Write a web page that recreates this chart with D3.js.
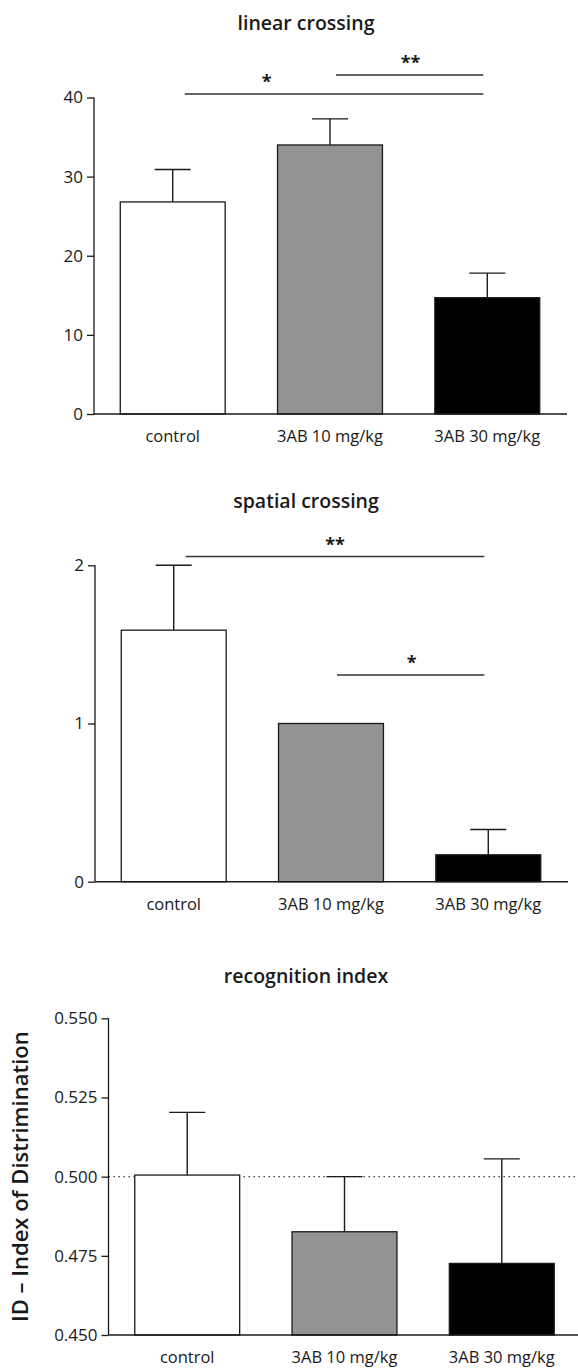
<!DOCTYPE html>
<html>
<head>
<meta charset="utf-8">
<script src="https://cdn.jsdelivr.net/npm/d3@7"></script>
<style>
  body { margin: 0; background: #fff; }
  text { font-family: "Open Sans", sans-serif; fill: #1a1a1a; }
</style>
</head>
<body>
<script>
var width = 578;
var height = 1370;

// groups and values
var categories = ["control", "3AB 10 mg/kg", "3AB 30 mg/kg"];

var linearMeans = [26.8, 34.0, 14.7];
var linearErrors = [4.1, 3.3, 3.1];
var linearTicks = [0, 10, 20, 30, 40];

var spatialMeans = [1.59, 1.0, 0.17];
var spatialErrors = [0.41, 0, 0.16];
var spatialTicks = [0, 1, 2];

var recognitionMeans = [0.5005, 0.4826, 0.4726];
var recognitionErrors = [0.0198, 0.0174, 0.0330];
var recognitionTicks = [0.450, 0.475, 0.500, 0.525, 0.550];

// significance brackets: from group, to group, label, height in data units
var linearSig = [
    { from: 0, to: 2, label: "*", value: 40.45 },
    { from: 1, to: 2, label: "**", value: 42.85 }
];
var spatialSig = [
    { from: 0, to: 2, label: "**", value: 2.055 },
    { from: 1, to: 2, label: "*", value: 1.307 }
];

var fills = ["#ffffff", "#939393", "#000000"];

var svg = d3.select("body").append("svg")
    .attr("width", width)
    .attr("height", height);

function drawPanel(opt) {
    var g = svg.append("g");

    var x = d3.scaleBand()
        .domain(categories)
        .range([opt.left, opt.left + 472])
        .paddingInner(0.333)
        .paddingOuter(0.167);

    var y = d3.scaleLinear()
        .domain([opt.ticks[0], opt.ticks[opt.ticks.length - 1]])
        .range([opt.bottom, opt.top]);

    // title
    g.append("text")
        .attr("x", 306)
        .attr("y", opt.titleY)
        .attr("text-anchor", "middle")
        .attr("font-size", 19.5)
        .attr("font-weight", 600)
        .text(opt.title);

    // reference line
    if (opt.refLine != null) {
        g.append("line")
            .attr("x1", opt.left).attr("x2", width)
            .attr("y1", y(opt.refLine)).attr("y2", y(opt.refLine))
            .attr("stroke", "#222")
            .attr("stroke-width", 1.2)
            .attr("stroke-dasharray", "1.3,3.7");
    }

    // error bars (upper only)
    var data = categories.map(function (c, i) {
        return { cat: c, mean: opt.means[i], err: opt.errors[i], i: i };
    });

    data.filter(d => d.err > 0).forEach(function (d) {
        var cx = x(d.cat) + x.bandwidth() / 2;
        g.append("line")
            .attr("x1", cx).attr("x2", cx)
            .attr("y1", y(d.mean)).attr("y2", y(d.mean + d.err))
            .attr("stroke", "#1a1a1a").attr("stroke-width", 1.4);
        g.append("line")
            .attr("x1", cx - 18).attr("x2", cx + 18)
            .attr("y1", y(d.mean + d.err)).attr("y2", y(d.mean + d.err))
            .attr("stroke", "#1a1a1a").attr("stroke-width", 1.4);
    });

    // bars
    g.selectAll("rect.bar")
        .data(data)
        .enter().append("rect")
        .attr("class", "bar")
        .attr("x", d => x(d.cat))
        .attr("y", d => y(d.mean))
        .attr("width", x.bandwidth())
        .attr("height", d => opt.bottom - y(d.mean))
        .attr("fill", d => fills[d.i])
        .attr("stroke", "#1a1a1a")
        .attr("stroke-width", 1.3);

    // y axis
    var yAxis = d3.axisLeft(y)
        .tickValues(opt.ticks)
        .tickFormat(opt.format)
        .tickSize(7)
        .tickPadding(4);
    var ya = g.append("g")
        .attr("transform", "translate(" + opt.left + ",0)")
        .call(yAxis);
    ya.select(".domain").remove();
    ya.append("line")
        .attr("x1", 0).attr("x2", 0)
        .attr("y1", opt.top).attr("y2", opt.bottom)
        .attr("stroke", "#1a1a1a").attr("stroke-width", 1.3);
    ya.selectAll(".tick line").attr("stroke", "#1a1a1a").attr("stroke-width", 1.3);
    ya.selectAll(".tick text")
        .attr("font-size", 17)
        .attr("fill", "#1a1a1a")
        .style("font-family", "'Open Sans', sans-serif");

    // x axis
    g.append("line")
        .attr("x1", opt.left).attr("x2", opt.axisRight)
        .attr("y1", opt.bottom).attr("y2", opt.bottom)
        .attr("stroke", "#1a1a1a").attr("stroke-width", 1.6);

    g.selectAll("text.xlab")
        .data(categories)
        .enter().append("text")
        .attr("class", "xlab")
        .attr("x", d => x(d) + x.bandwidth() / 2)
        .attr("y", opt.bottom + 28)
        .attr("text-anchor", "middle")
        .attr("font-size", 16.5)
        .text(d => d);

    // significance brackets
    (opt.sig || []).forEach(function (s) {
        var x1 = x(categories[s.from]) + x.bandwidth() / 2 + (s.from === 0 ? 12 : 6);
        var x2 = x(categories[s.to]) + x.bandwidth() / 2 - 4;
        g.append("line")
            .attr("x1", x1).attr("x2", x2)
            .attr("y1", y(s.value)).attr("y2", y(s.value))
            .attr("stroke", "#333").attr("stroke-width", 1.5);
        var tx = s.from === 0 && s.label === "*" ? x1 + 82 : (x1 + x2) / 2 + (s.from === 0 ? 0 : 1);
        g.append("text")
            .attr("x", tx)
            .attr("y", y(s.value) - 6)
            .attr("text-anchor", "middle")
            .attr("font-size", 18)
            .attr("font-weight", 700)
            .text(s.label);
    });

    if (opt.yLabel) {
        g.append("text")
            .attr("transform", "translate(28," + ((opt.top + opt.bottom) / 2) + ") rotate(-90)")
            .attr("text-anchor", "middle")
            .attr("font-size", 22)
            .attr("font-weight", 600)
            .text(opt.yLabel);
    }
}

drawPanel({
    title: "linear crossing", titleY: 30,
    means: linearMeans, errors: linearErrors, ticks: linearTicks,
    format: d3.format("d"),
    left: 94, top: 97.5, bottom: 414, axisRight: 567,
    sig: linearSig
});

drawPanel({
    title: "spatial crossing", titleY: 508,
    means: spatialMeans, errors: spatialErrors, ticks: spatialTicks,
    format: d3.format("d"),
    left: 95, top: 565.3, bottom: 881.7, axisRight: 568,
    sig: spatialSig
});

drawPanel({
    title: "recognition index", titleY: 983,
    means: recognitionMeans, errors: recognitionErrors, ticks: recognitionTicks,
    format: d3.format(".3f"),
    left: 108.5, top: 1018.3, bottom: 1335, axisRight: 578,
    refLine: 0.500,
    yLabel: "ID – Index of Distrimination"
});
</script>
</body>
</html>
